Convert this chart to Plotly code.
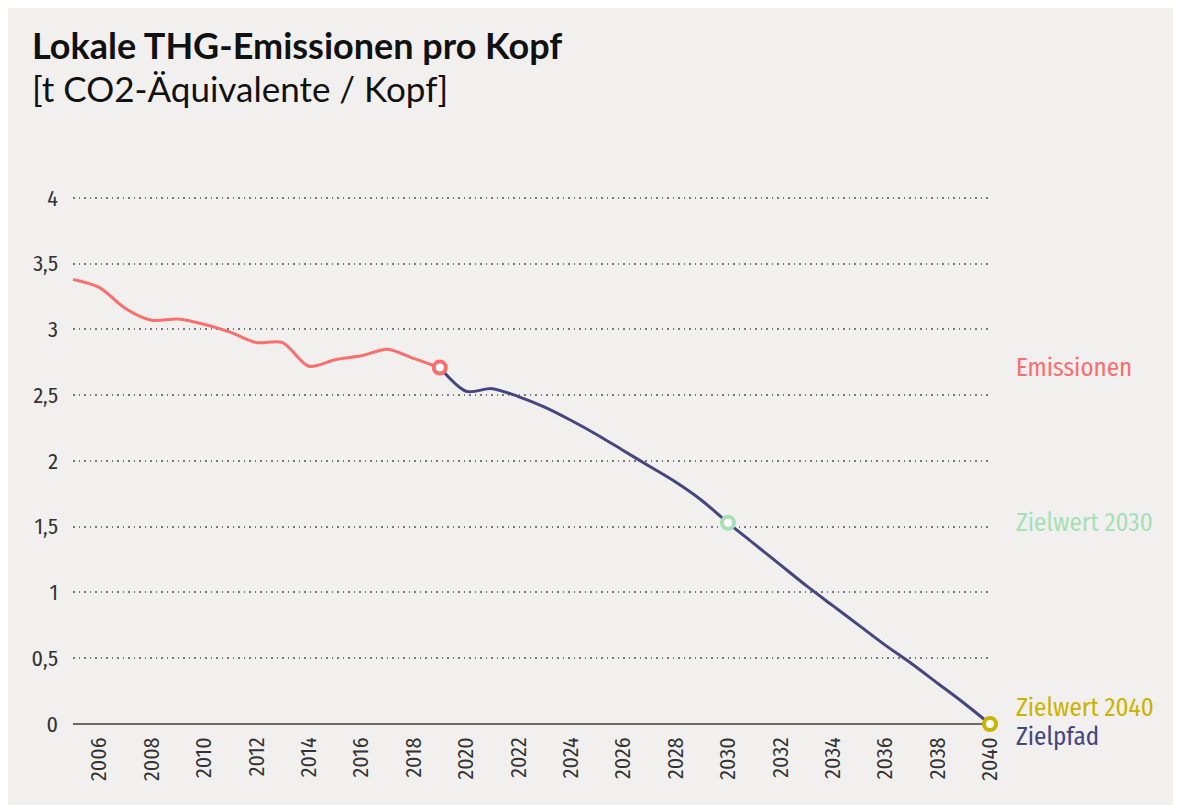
import plotly.graph_objects as go

years_emis = [2005, 2006, 2007, 2008, 2009, 2010, 2011, 2012, 2013, 2014, 2015, 2016, 2017, 2018, 2019]
emissionen = [3.38, 3.32, 3.16, 3.07, 3.08, 3.04, 2.98, 2.90, 2.90, 2.72, 2.77, 2.80, 2.85, 2.78, 2.71]

years_pfad = [2019, 2020, 2021, 2022, 2023, 2024, 2025, 2026, 2027, 2028, 2029, 2030,
              2031, 2032, 2033, 2034, 2035, 2036, 2037, 2038, 2039, 2040]
zielpfad = [2.71, 2.53, 2.55, 2.49, 2.41, 2.31, 2.20, 2.08, 1.96, 1.84, 1.70, 1.53,
            1.37, 1.21, 1.05, 0.90, 0.75, 0.60, 0.46, 0.31, 0.16, 0.0]

ziel_2030 = (2030, 1.53)
ziel_2040 = (2040, 0.0)

y_ticks = [0, 0.5, 1, 1.5, 2, 2.5, 3, 3.5, 4]
x_ticks = list(range(2006, 2041, 2))

C_RED = "#fa6e6e"
C_BLUE = "#45457f"
C_GREEN = "#a6dfb8"
C_GOLD = "#cbb300"
BG = "#f1f0ef"
TITLE_FONT = "Lato"
FONT = "Fira Sans Condensed, Roboto Condensed, Lato"

fig = go.Figure()
fig.add_trace(go.Scatter(x=years_pfad, y=zielpfad, mode="lines",
                         line=dict(color=C_BLUE, width=3, shape="spline", smoothing=0.8),
                         cliponaxis=False, showlegend=False))
fig.add_trace(go.Scatter(x=years_emis, y=emissionen, mode="lines",
                         line=dict(color=C_RED, width=3, shape="spline", smoothing=0.8),
                         cliponaxis=False, showlegend=False))
for (mx, my), col in [((years_emis[-1], emissionen[-1]), C_RED), (ziel_2030, C_GREEN), (ziel_2040, C_GOLD)]:
    fig.add_trace(go.Scatter(x=[mx], y=[my], mode="markers",
                             marker=dict(size=12, color="white", line=dict(color=col, width=4)),
                             cliponaxis=False, showlegend=False))

labels = [("Emissionen", emissionen[-1], 0, C_RED),
          ("Zielwert 2030", ziel_2030[1], 0, C_GREEN),
          ("Zielwert 2040", ziel_2040[1], 16, C_GOLD),
          ("Zielpfad", ziel_2040[1], -13, C_BLUE)]
for txt, yy, ys, col in labels:
    fig.add_annotation(x=2040, y=yy, xref="x", yref="y", text=txt, showarrow=False,
                       xanchor="left", yanchor="middle", xshift=24, yshift=ys,
                       font=dict(family=FONT, size=25, color=col))

fig.add_annotation(x=0, y=1, xref="paper", yref="paper", xanchor="left", yanchor="top",
                   text="<b>Lokale THG-Emissionen pro Kopf</b>", showarrow=False,
                   xshift=-43, yshift=170, font=dict(family=TITLE_FONT, size=36, color="#111"))
fig.add_annotation(x=0, y=1, xref="paper", yref="paper", xanchor="left", yanchor="top",
                   text="[t CO2-Äquivalente / Kopf]", showarrow=False,
                   xshift=-43, yshift=126, font=dict(family=TITLE_FONT, size=35, color="#111"))

fig.update_layout(
    width=1173, height=797,
    margin=dict(l=65, r=191, t=183, b=81),
    paper_bgcolor=BG, plot_bgcolor=BG,
    separators=",.",
    font=dict(family=FONT, color="#333"),
    xaxis=dict(range=[2005, 2040], tickvals=x_ticks, tickangle=-90, showgrid=False,
               zeroline=False, showline=False, ticks="", ticklabelstandoff=8,
               tickfont=dict(size=22, color="#333")),
    yaxis=dict(range=[0, 4.053], tickvals=y_ticks, showgrid=True, gridcolor="#777777",
               griddash="1.5px,4px", gridwidth=1.5, zeroline=True, zerolinecolor="#6b6b6b",
               zerolinewidth=2, showline=False, ticks="", ticklabelstandoff=14,
               tickfont=dict(size=22, color="#333")),
)
fig.write_html("out.html")
